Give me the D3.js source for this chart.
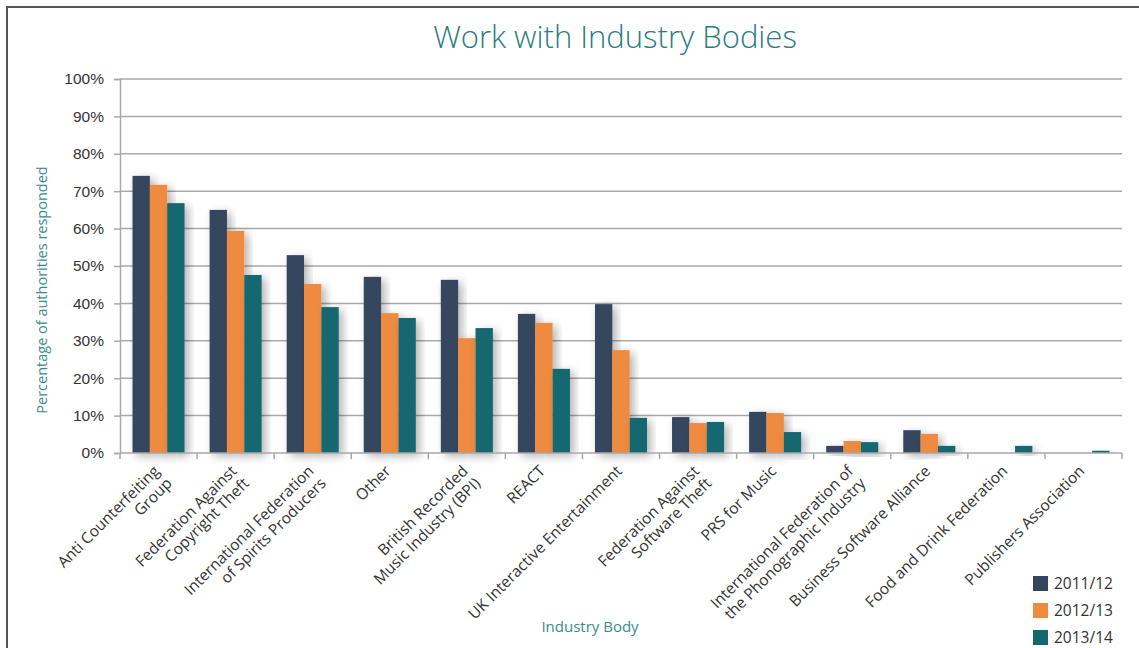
<!DOCTYPE html>
<html>
<head>
<meta charset="utf-8">
<script src="https://cdn.jsdelivr.net/npm/d3@7"></script>
<style>
  body { margin: 0; background: #fff; }
  svg { display: block; font-family: "Open Sans", "Noto Sans", sans-serif; }
</style>
</head>
<body>
<div id="chart"></div>
<script>
// categories (line breaks as in the original labels)
const categories = [
    ["Anti Counterfeiting", "Group"],
    ["Federation Against", "Copyright Theft"],
    ["International Federation", "of Spirits Producers"],
    ["Other"],
    ["British Recorded", "Music Industry (BPI)"],
    ["REACT"],
    ["UK Interactive Entertainment"],
    ["Federation Against", "Software Theft"],
    ["PRS for Music"],
    ["International Federation of", "the Phonographic Industry"],
    ["Business Software Alliance"],
    ["Food and Drink Federation"],
    ["Publishers Association"]
];

const seriesNames = ["2011/12", "2012/13", "2013/14"];
const seriesColors = ["#34465e", "#ef8b3f", "#136870"];

// percentage of authorities
const values2011 = [74.1, 65.0, 52.9, 47.1, 46.3, 37.2, 39.8, 9.6, 11.0, 1.9, 6.1, 0, 0];
const values2012 = [71.7, 59.4, 45.2, 37.4, 30.7, 34.8, 27.5, 8.0, 10.7, 3.2, 5.1, 0, 0];
const values2013 = [66.8, 47.6, 39.0, 36.1, 33.4, 22.5, 9.4, 8.3, 5.6, 2.9, 1.9, 1.9, 0.6];

const yTicks = [0, 10, 20, 30, 40, 50, 60, 70, 80, 90, 100];

const allSeries = [values2011, values2012, values2013];

const width = 1139, height = 648;
const margin = { top: 79, right: 17, bottom: 195, left: 120 };
const innerW = width - margin.left - margin.right;
const innerH = height - margin.top - margin.bottom;

const svg = d3.select("#chart").append("svg")
    .attr("width", width)
    .attr("height", height);

// soft shadow like the original
const defs = svg.append("defs");
const shadow = defs.append("filter")
    .attr("id", "shadow")
    .attr("x", "-50%").attr("y", "-20%")
    .attr("width", "200%").attr("height", "150%");
shadow.append("feDropShadow")
    .attr("dx", 4).attr("dy", 3)
    .attr("stdDeviation", 5)
    .attr("flood-color", "#000")
    .attr("flood-opacity", 0.3);

// frame (top + left only)
svg.append("path")
    .attr("d", `M7,${height} L7,7 L${width},7`)
    .attr("fill", "none")
    .attr("stroke", "#555")
    .attr("stroke-width", 2);

svg.append("text")
    .attr("x", 615)
    .attr("y", 48)
    .attr("text-anchor", "middle")
    .attr("font-size", 31)
    .attr("font-weight", 300)
    .attr("fill", "#2a7c82")
    .text("Work with Industry Bodies");

const g = svg.append("g").attr("transform", `translate(${margin.left},${margin.top})`);

const x0 = d3.scaleBand()
    .domain(d3.range(categories.length))
    .range([0, innerW])
    .paddingInner(0.325)
    .paddingOuter(0.1625);

const x1 = d3.scaleBand()
    .domain(d3.range(seriesNames.length))
    .range([0, x0.bandwidth()]);

const y = d3.scaleLinear().domain([0, 100]).range([innerH, 0]);

// gridlines
g.append("g")
    .selectAll("line")
    .data(yTicks.filter(t => t > 0))
    .join("line")
    .attr("x1", 0).attr("x2", innerW)
    .attr("y1", d => y(d)).attr("y2", d => y(d))
    .attr("stroke", "#a9a9a9")
    .attr("stroke-width", 1.5);

// y axis
const yAxis = g.append("g")
    .call(d3.axisLeft(y).tickValues(yTicks).tickFormat(d => d + "%").tickSize(6).tickPadding(10));
yAxis.select(".domain").attr("stroke", "#a9a9a9").attr("stroke-width", 1.5);
yAxis.selectAll(".tick line").attr("stroke", "#a9a9a9").attr("stroke-width", 1.5);
yAxis.selectAll(".tick text").attr("font-size", 15.5).attr("fill", "#333").attr("font-family", null);

// bars
const groups = g.append("g")
    .selectAll("g")
    .data(categories.map((c, i) => i))
    .join("g")
    .attr("transform", i => `translate(${x0(i)},0)`);

groups.selectAll("rect")
    .data(i => allSeries.map((s, k) => ({ k: k, v: s[i] })))
    .join("rect")
    .filter(d => d.v > 0)
    .attr("x", d => x1(d.k))
    .attr("width", x1.bandwidth())
    .attr("y", d => y(d.v))
    .attr("height", d => innerH - y(d.v))
    .attr("fill", d => seriesColors[d.k])
    .attr("filter", "url(#shadow)");

// x axis line with ticks at category boundaries
const xAxis = g.append("g").attr("transform", `translate(0,${innerH})`);
xAxis.append("line")
    .attr("x1", 0).attr("x2", innerW)
    .attr("stroke", "#a9a9a9").attr("stroke-width", 1.5);
xAxis.selectAll(".xt")
    .data(d3.range(categories.length + 1))
    .join("line")
    .attr("class", "xt")
    .attr("x1", i => i * x0.step()).attr("x2", i => i * x0.step())
    .attr("y1", 0).attr("y2", 6)
    .attr("stroke", "#a9a9a9").attr("stroke-width", 1.5);

// rotated category labels, right aligned, top aligned
const labels = svg.append("g")
    .selectAll("text")
    .data(categories)
    .join("text")
    .attr("transform", (d, i) => {
        const cx = margin.left + x0(i) + x0.bandwidth() / 2 + 2;
        return `translate(${cx},${margin.top + innerH + 19}) rotate(-45)`;
    })
    .attr("text-anchor", "end")
    .attr("font-size", 15.5)
    .attr("fill", "#333");

labels.selectAll("tspan")
    .data(d => d)
    .join("tspan")
    .attr("x", 0)
    .attr("y", (d, j) => j * 17.5)
    .text(d => d);

// axis titles
svg.append("text")
    .attr("x", 590)
    .attr("y", 632)
    .attr("text-anchor", "middle")
    .attr("font-size", 15)
    .attr("fill", "#3a8b90")
    .text("Industry Body");

svg.append("text")
    .attr("transform", "translate(47,290) rotate(-90)")
    .attr("text-anchor", "middle")
    .attr("font-size", 14.5)
    .attr("fill", "#3a8b90")
    .text("Percentage of authorities responded");

// legend
const legend = svg.append("g")
    .selectAll("g")
    .data(seriesNames)
    .join("g")
    .attr("transform", (d, i) => `translate(1033,${576 + i * 27})`);

legend.append("rect")
    .attr("width", 15).attr("height", 15)
    .attr("fill", (d, i) => seriesColors[i]);

legend.append("text")
    .attr("x", 21)
    .attr("y", 13)
    .attr("font-size", 15.5)
    .attr("fill", "#333")
    .text(d => d);
</script>
</body>
</html>
